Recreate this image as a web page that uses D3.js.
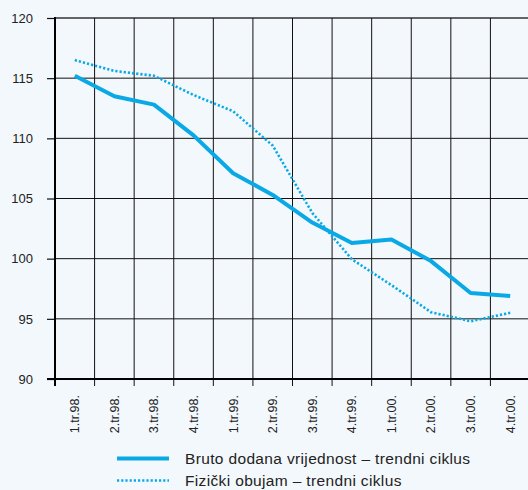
<!DOCTYPE html>
<html>
<head>
<meta charset="utf-8">
<script src="https://cdn.jsdelivr.net/npm/d3@7"></script>
<style>
  html, body { margin: 0; padding: 0; background: #f3f8fc; }
  svg { display: block; font-family: "Liberation Sans", Arial, sans-serif; }
</style>
</head>
<body>
<svg id="chart" width="528" height="490"></svg>
<script>
"use strict"

// quarters on the x axis
var quarters = ["1.tr.98.", "2.tr.98.", "3.tr.98.", "4.tr.98.",
    "1.tr.99.", "2.tr.99.", "3.tr.99.", "4.tr.99.",
    "1.tr.00.", "2.tr.00.", "3.tr.00.", "4.tr.00."];

// Bruto dodana vrijednost – trendni ciklus
var brutoValues = [115.2, 113.5, 112.8, 110.25, 107.1, 105.3, 103.0, 101.3, 101.6, 99.8, 97.15, 96.9];

// Fizički obujam – trendni ciklus
var fizickiValues = [116.5, 115.6, 115.2, 113.6, 112.25, 109.4, 103.8, 99.95, 97.8, 95.55, 94.8, 95.5];

var yTicks = [90, 95, 100, 105, 110, 115, 120];

var seriesNames = ["Bruto dodana vrijednost – trendni ciklus", "Fizički obujam – trendni ciklus"];

var lineColor = "#0aa9e6";

var margin = { top: 18, left: 55, bottom: 379, right: 530 };

var svg = d3.select("#chart");

var x = d3.scaleBand()
    .domain(quarters)
    .range([margin.left, margin.right])
    .padding(0);

var y = d3.scaleLinear()
    .domain([90, 120])
    .range([margin.bottom, margin.top]);

var g = svg.append("g");

// horizontal grid
g.selectAll(".hgrid")
    .data(yTicks.filter(function(d) { return d > 90; }))
    .enter().append("line")
    .attr("class", "hgrid")
    .attr("x1", margin.left)
    .attr("x2", 528)
    .attr("y1", function(d) { return y(d); })
    .attr("y2", function(d) { return y(d); })
    .attr("stroke", function(d) { return d == 120 ? "#333" : "#111"; })
    .attr("stroke-width", function(d) { return d == 120 ? 1.6 : 1; });

// vertical grid at band edges
var edges = quarters.map(function(q) { return x(q); }).slice(1);
g.selectAll(".vgrid")
    .data(edges)
    .enter().append("line")
    .attr("class", "vgrid")
    .attr("x1", function(d) { return d; })
    .attr("x2", function(d) { return d; })
    .attr("y1", margin.top)
    .attr("y2", margin.bottom + 7)
    .attr("stroke", "#111")
    .attr("stroke-width", 1);

// left axis
var yAxis = d3.axisLeft(y)
    .tickValues(yTicks)
    .tickSize(8)
    .tickPadding(14);

var yAxisG = g.append("g")
    .attr("transform", "translate(" + margin.left + ",0)")
    .call(yAxis);
yAxisG.select(".domain").remove();
yAxisG.selectAll(".tick line")
    .attr("stroke", "#111")
    .attr("stroke-width", 1.2);
yAxisG.selectAll(".tick text")
    .attr("fill", "#222")
    .style("font-size", "13px")
    .style("font-family", "Liberation Sans, Arial, sans-serif");

g.append("line")
    .attr("x1", margin.left)
    .attr("x2", margin.left)
    .attr("y1", margin.top - 1)
    .attr("y2", margin.bottom + 7)
    .attr("stroke", "#000")
    .attr("stroke-width", 2);

// bottom axis
g.append("line")
    .attr("x1", margin.left - 8)
    .attr("x2", 528)
    .attr("y1", margin.bottom)
    .attr("y2", margin.bottom)
    .attr("stroke", "#000")
    .attr("stroke-width", 2);

// x labels rotated
g.selectAll(".xlabel")
    .data(quarters)
    .enter().append("text")
    .attr("class", "xlabel")
    .attr("transform", function(d) {
        return "translate(" + (x(d) + x.bandwidth() / 2) + "," + (margin.bottom + 16) + ") rotate(-90)";
    })
    .attr("text-anchor", "end")
    .attr("dy", "0.35em")
    .attr("fill", "#222")
    .style("font-size", "12.5px")
    .text(function(d) { return d; });

// lines
var line = d3.line()
    .x(function(d, i) { return x(quarters[i]) + x.bandwidth() / 2; })
    .y(function(d) { return y(d); });

g.append("path")
    .datum(fizickiValues)
    .attr("fill", "none")
    .attr("stroke", lineColor)
    .attr("stroke-width", 2.6)
    .attr("stroke-dasharray", "2.2,2")
    .attr("d", line);

g.append("path")
    .datum(brutoValues)
    .attr("fill", "none")
    .attr("stroke", lineColor)
    .attr("stroke-width", 4)
    .attr("stroke-linejoin", "round")
    .attr("d", line);

// legend
var legend = g.selectAll(".legend")
    .data(seriesNames)
    .enter().append("g")
    .attr("class", "legend")
    .attr("transform", function(d, i) { return "translate(117," + (458.5 + i * 22) + ")"; });

legend.append("line")
    .attr("x1", 0)
    .attr("x2", 52)
    .attr("stroke", lineColor)
    .attr("stroke-width", function(d, i) { return i == 0 ? 4 : 2.6; })
    .attr("stroke-dasharray", function(d, i) { return i == 0 ? null : "2.2,2"; });

legend.append("text")
    .attr("x", 68)
    .attr("dy", "0.35em")
    .attr("fill", "#222")
    .style("font-size", "15.5px")
    .style("letter-spacing", "0.35px")
    .text(function(d) { return d; });
</script>
</body>
</html>
